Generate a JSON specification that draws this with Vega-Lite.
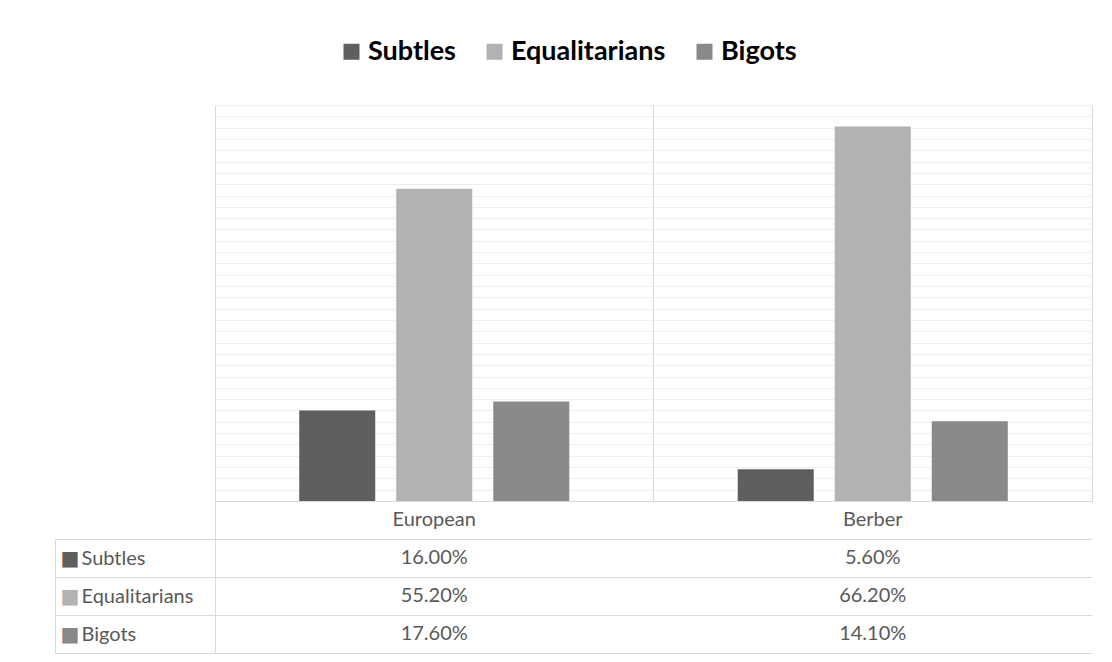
{
  "$schema": "https://vega.github.io/schema/vega-lite/v6.json",
  "background": "white",
  "padding": {"left": 54, "top": 38, "right": 21, "bottom": 8},
  "spacing": 0,
  "datasets": {
    "survey": [
      {"category": "European", "series": "Subtles", "value": 0.16},
      {"category": "European", "series": "Equalitarians", "value": 0.552},
      {"category": "European", "series": "Bigots", "value": 0.176},
      {"category": "Berber", "series": "Subtles", "value": 0.056},
      {"category": "Berber", "series": "Equalitarians", "value": 0.662},
      {"category": "Berber", "series": "Bigots", "value": 0.141}
    ],
    "cats": [
      {"category": "European"},
      {"category": "Berber"}
    ]
  },
  "resolve": {"legend": {"color": "independent"}},
  "vconcat": [
    {
      "width": 877,
      "height": 396,
      "data": {"name": "survey"},
      "mark": {"type": "bar"},
      "encoding": {
        "x": {
          "field": "category", "type": "nominal", "sort": ["European", "Berber"],
          "scale": {"paddingInner": 0, "paddingOuter": 0},
          "axis": {"title": null, "labels": false, "ticks": false, "domain": true, "domainColor": "#d9d9d9", "grid": true, "gridColor": "#d9d9d9", "bandPosition": 1}
        },
        "xOffset": {
          "field": "series", "type": "nominal", "sort": ["Subtles", "Equalitarians", "Bigots"],
          "scale": {"paddingInner": 0.2165, "paddingOuter": 0.868}
        },
        "y": {
          "field": "value", "type": "quantitative",
          "scale": {"domain": [0, 0.7], "nice": false},
          "axis": {"title": null, "labels": false, "ticks": false, "domain": true, "domainColor": "#d9d9d9", "grid": true, "gridColor": "#eeeeee", "tickCount": 35, "minExtent": 160, "maxExtent": 160}
        },
        "color": {
          "field": "series", "type": "nominal", "sort": ["Subtles", "Equalitarians", "Bigots"],
          "scale": {"domain": ["Subtles", "Equalitarians", "Bigots"], "range": ["#5f5f5f", "#b2b2b2", "#898989"]},
          "legend": {
            "orient": "none", "legendX": 123, "legendY": -67, "direction": "horizontal", "title": null,
            "padding": 0, "symbolType": "square", "symbolSize": 256, "symbolStrokeWidth": 0, "symbolOpacity": 1,
            "labelFont": "Lato", "labelFontSize": 27, "labelFontWeight": "bold", "labelColor": "#000000",
            "labelOffset": 3, "columnPadding": 25, "labelLimit": 400
          }
        }
      }
    },
    {
      "width": 877,
      "height": 152,
      "layer": [
        {
          "data": {"name": "cats"},
          "mark": {"type": "text", "font": "Lato", "fontSize": 20, "color": "#595959"},
          "encoding": {
            "x": {
              "field": "category", "type": "nominal", "sort": ["European", "Berber"],
              "scale": {"paddingInner": 0, "paddingOuter": 0},
              "axis": {"title": null, "labels": false, "ticks": false, "domain": false, "grid": true, "gridColor": "#d9d9d9", "bandPosition": 1}
            },
            "y": {
              "datum": "header", "type": "nominal",
              "scale": {"domain": ["header", "Subtles", "Equalitarians", "Bigots"], "paddingInner": 0, "paddingOuter": 0},
              "axis": {
                "title": null, "orient": "left", "tickOffset": 19,
                "ticks": true, "tickSize": 160, "tickColor": "#d9d9d9",
                "grid": true, "gridColor": "#d9d9d9",
                "domain": true, "domainColor": "#d9d9d9",
                "labels": false,
                "minExtent": 160, "maxExtent": 160
              }
            },
            "text": {"field": "category", "type": "nominal"}
          }
        },
        {
          "data": {"name": "survey"},
          "mark": {"type": "text", "font": "Lato", "fontSize": 20, "color": "#595959"},
          "encoding": {
            "x": {"field": "category", "type": "nominal", "sort": ["European", "Berber"], "axis": null},
            "y": {
              "field": "series", "type": "nominal",
              "axis": {
                "title": null, "orient": "left", "offset": 160,
                "ticks": false, "tickSize": 0, "grid": false,
                "domain": true, "domainColor": "#d9d9d9", "domainDash": [0, 38, 200],
                "labelExpr": "datum.value === 'header' ? '' : datum.value",
                "labelAlign": "left", "labelBaseline": "middle", "labelPadding": -26,
                "labelFont": "Lato", "labelFontSize": 20, "labelColor": "#595959",
                "labelBound": false, "labelOverlap": false,
                "minExtent": 0, "maxExtent": 0
              }
            },
            "text": {"field": "value", "type": "quantitative", "format": ".2%"}
          }
        },
        {
          "data": {"name": "survey"},
          "mark": {"type": "text", "font": "Lato", "fontSize": 20, "opacity": 0},
          "encoding": {
            "x": {"field": "category", "type": "nominal", "sort": ["European", "Berber"], "axis": null},
            "y": {
              "field": "series", "type": "nominal",
              "axis": {
                "title": null, "orient": "left",
                "ticks": false, "tickSize": 0, "grid": false, "domain": false,
                "labelExpr": "datum.value === 'header' ? '' : '■'",
                "labelAlign": "left", "labelBaseline": "middle", "labelPadding": 155,
                "labelFont": "DejaVu Sans", "labelFontSize": 20,
                "labelBound": false, "labelOverlap": false,
                "minExtent": 160, "maxExtent": 160,
                "labelColor": {
                  "condition": [
                    {"test": "datum.value === 'Subtles'", "value": "#5f5f5f"},
                    {"test": "datum.value === 'Equalitarians'", "value": "#b2b2b2"}
                  ],
                  "value": "#898989"
                }
              }
            },
            "text": {"field": "value", "type": "quantitative", "format": ".2%"}
          }
        }
      ],
      "resolve": {"axis": {"y": "independent"}}
    }
  ],
  "config": {
    "view": {"stroke": null},
    "font": "Lato",
    "axis": {"domainWidth": 1, "gridWidth": 1, "tickWidth": 1}
  }
}
